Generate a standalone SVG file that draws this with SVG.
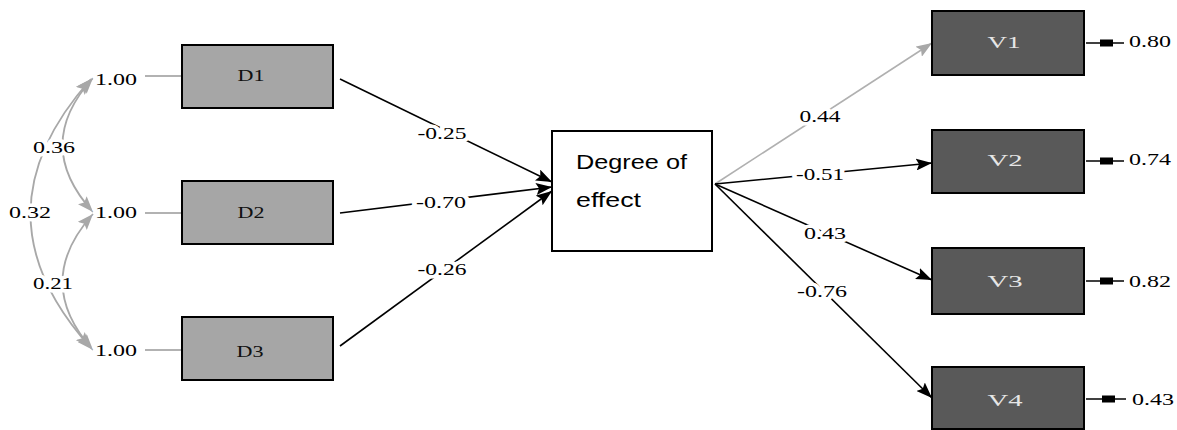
<svg xmlns="http://www.w3.org/2000/svg" width="1177" height="430" viewBox="0 0 1177 430">
<style>
.num{font-family:"Liberation Serif",serif;font-size:17px;fill:#000;text-anchor:middle;paint-order:stroke;stroke:#fff;stroke-width:7px;stroke-linejoin:round;}
.res{font-family:"Liberation Serif",serif;font-size:17px;fill:#000;}
.dbox{fill:#a6a6a6;stroke:#000;stroke-width:2;}
.vbox{fill:#595959;stroke:#000;stroke-width:2;}
.dlab{font-family:"Liberation Serif",serif;font-size:17px;fill:#111;text-anchor:middle;}
.vlab{font-family:"Liberation Serif",serif;font-size:17px;fill:#e6e6e6;text-anchor:middle;}
.path{stroke:#000;stroke-width:1.6;fill:none;}
.grey{stroke:#a8a8a8;stroke-width:1.8;fill:none;}
</style>
<defs>
<marker id="ab" viewBox="0 0 16 12" markerWidth="16" markerHeight="12" refX="16" refY="6" orient="auto" markerUnits="userSpaceOnUse">
<path d="M0,0 L16,6 L0,12 L3,6 Z" fill="#000"/>
</marker>
<marker id="ag" viewBox="0 0 16 12" markerWidth="16" markerHeight="12" refX="16" refY="6" orient="auto" markerUnits="userSpaceOnUse">
<path d="M0,0 L16,6 L0,12 L3,6 Z" fill="#a8a8a8"/>
</marker>
<marker id="ags" viewBox="0 0 16 12" markerWidth="16" markerHeight="12" refX="16" refY="6" orient="auto-start-reverse" markerUnits="userSpaceOnUse">
<path d="M0,0 L16,6 L0,12 L3,6 Z" fill="#a8a8a8"/>
</marker>
</defs>

<g id="connectors">
<path class="grey" d="M93,78 Q32,145 93,212" marker-start="url(#ags)" marker-end="url(#ags)"/>
<path class="grey" d="M93,214 Q32,282 93,350" marker-start="url(#ags)" marker-end="url(#ags)"/>
<path class="grey" d="M91,79 Q-30,214 91,348" marker-start="url(#ags)" marker-end="url(#ags)"/>
<line x1="145" y1="76" x2="182" y2="76" stroke="#999" stroke-width="1.5"/>
<line x1="145" y1="213" x2="182" y2="213" stroke="#999" stroke-width="1.5"/>
<line x1="145" y1="350" x2="182" y2="350" stroke="#999" stroke-width="1.5"/>
<line class="path" x1="340" y1="79" x2="552" y2="182" marker-end="url(#ab)"/>
<line class="path" x1="340" y1="213" x2="552" y2="187" marker-end="url(#ab)"/>
<line class="path" x1="340" y1="346" x2="552" y2="191" marker-end="url(#ab)"/>
<line x1="715" y1="184" x2="932" y2="43" stroke="#b0b0b0" stroke-width="1.6" marker-end="url(#ag)"/>
<line class="path" x1="715" y1="184" x2="932" y2="163" marker-end="url(#ab)"/>
<line class="path" x1="715" y1="184" x2="932" y2="280" marker-end="url(#ab)"/>
<line class="path" x1="715" y1="184" x2="932" y2="398" marker-end="url(#ab)"/>
<g stroke="#000">
<line x1="1086" y1="43" x2="1124" y2="43" stroke-width="1.5"/>
<rect x="1100" y="39.5" width="13" height="7" fill="#000" stroke="none"/>
<line x1="1086" y1="161" x2="1124" y2="161" stroke-width="1.5"/>
<rect x="1100" y="157.5" width="13" height="7" fill="#000" stroke="none"/>
<line x1="1086" y1="281" x2="1124" y2="281" stroke-width="1.5"/>
<rect x="1100" y="277.5" width="13" height="7" fill="#000" stroke="none"/>
<line x1="1086" y1="399" x2="1126" y2="399" stroke-width="1.5"/>
<rect x="1102" y="395.5" width="13" height="7" fill="#000" stroke="none"/>
</g>
</g>

<g id="edge-labels">
<text class="num" x="54" y="153" textLength="42" lengthAdjust="spacingAndGlyphs">0.36</text>
<text class="num" x="30" y="218" textLength="42" lengthAdjust="spacingAndGlyphs">0.32</text>
<text class="num" x="53" y="289" textLength="40" lengthAdjust="spacingAndGlyphs">0.21</text>
<text class="num" x="116" y="85" textLength="42" lengthAdjust="spacingAndGlyphs">1.00</text>
<text class="num" x="116" y="218" textLength="42" lengthAdjust="spacingAndGlyphs">1.00</text>
<text class="num" x="116" y="356" textLength="42" lengthAdjust="spacingAndGlyphs">1.00</text>
<text class="num" x="442" y="139" textLength="49" lengthAdjust="spacingAndGlyphs">-0.25</text>
<text class="num" x="441" y="208" textLength="50" lengthAdjust="spacingAndGlyphs">-0.70</text>
<text class="num" x="442" y="275" textLength="49" lengthAdjust="spacingAndGlyphs">-0.26</text>
<text class="num" x="820" y="122" textLength="41" lengthAdjust="spacingAndGlyphs">0.44</text>
<text class="num" x="820" y="180" textLength="48" lengthAdjust="spacingAndGlyphs">-0.51</text>
<text class="num" x="825" y="239" textLength="42" lengthAdjust="spacingAndGlyphs">0.43</text>
<text class="num" x="822" y="297" textLength="50" lengthAdjust="spacingAndGlyphs">-0.76</text>
<text class="res" x="1129" y="47" textLength="42" lengthAdjust="spacingAndGlyphs">0.80</text>
<text class="res" x="1129" y="165" textLength="42" lengthAdjust="spacingAndGlyphs">0.74</text>
<text class="res" x="1129" y="287" textLength="42" lengthAdjust="spacingAndGlyphs">0.82</text>
<text class="res" x="1132" y="405" textLength="42" lengthAdjust="spacingAndGlyphs">0.43</text>
</g>

<g id="D1"><rect class="dbox" x="182" y="45" width="151" height="63"/><text class="dlab" x="251" y="81" textLength="27" lengthAdjust="spacingAndGlyphs">D1</text></g>
<g id="D2"><rect class="dbox" x="182" y="181" width="151" height="63"/><text class="dlab" x="251" y="218" textLength="27" lengthAdjust="spacingAndGlyphs">D2</text></g>
<g id="D3"><rect class="dbox" x="182" y="317" width="151" height="63"/><text class="dlab" x="250" y="357" textLength="27" lengthAdjust="spacingAndGlyphs">D3</text></g>

<g id="Degree">
<rect x="552" y="131" width="160" height="120" fill="#fff" stroke="#000" stroke-width="2"/>
<text x="576" y="169" font-family="'Liberation Sans',sans-serif" font-size="20" textLength="111" lengthAdjust="spacingAndGlyphs">Degree of</text>
<text x="576" y="207" font-family="'Liberation Sans',sans-serif" font-size="20" textLength="65" lengthAdjust="spacingAndGlyphs">effect</text>
</g>

<g id="V1"><rect class="vbox" x="932" y="11" width="152" height="64"/><text class="vlab" x="1004" y="48" textLength="33" lengthAdjust="spacingAndGlyphs">V1</text></g>
<g id="V2"><rect class="vbox" x="932" y="130" width="152" height="63"/><text class="vlab" x="1005" y="166" textLength="35" lengthAdjust="spacingAndGlyphs">V2</text></g>
<g id="V3"><rect class="vbox" x="932" y="248" width="152" height="66"/><text class="vlab" x="1005" y="287" textLength="35" lengthAdjust="spacingAndGlyphs">V3</text></g>
<g id="V4"><rect class="vbox" x="932" y="367" width="152" height="62"/><text class="vlab" x="1005" y="406" textLength="35" lengthAdjust="spacingAndGlyphs">V4</text></g>
</svg>
